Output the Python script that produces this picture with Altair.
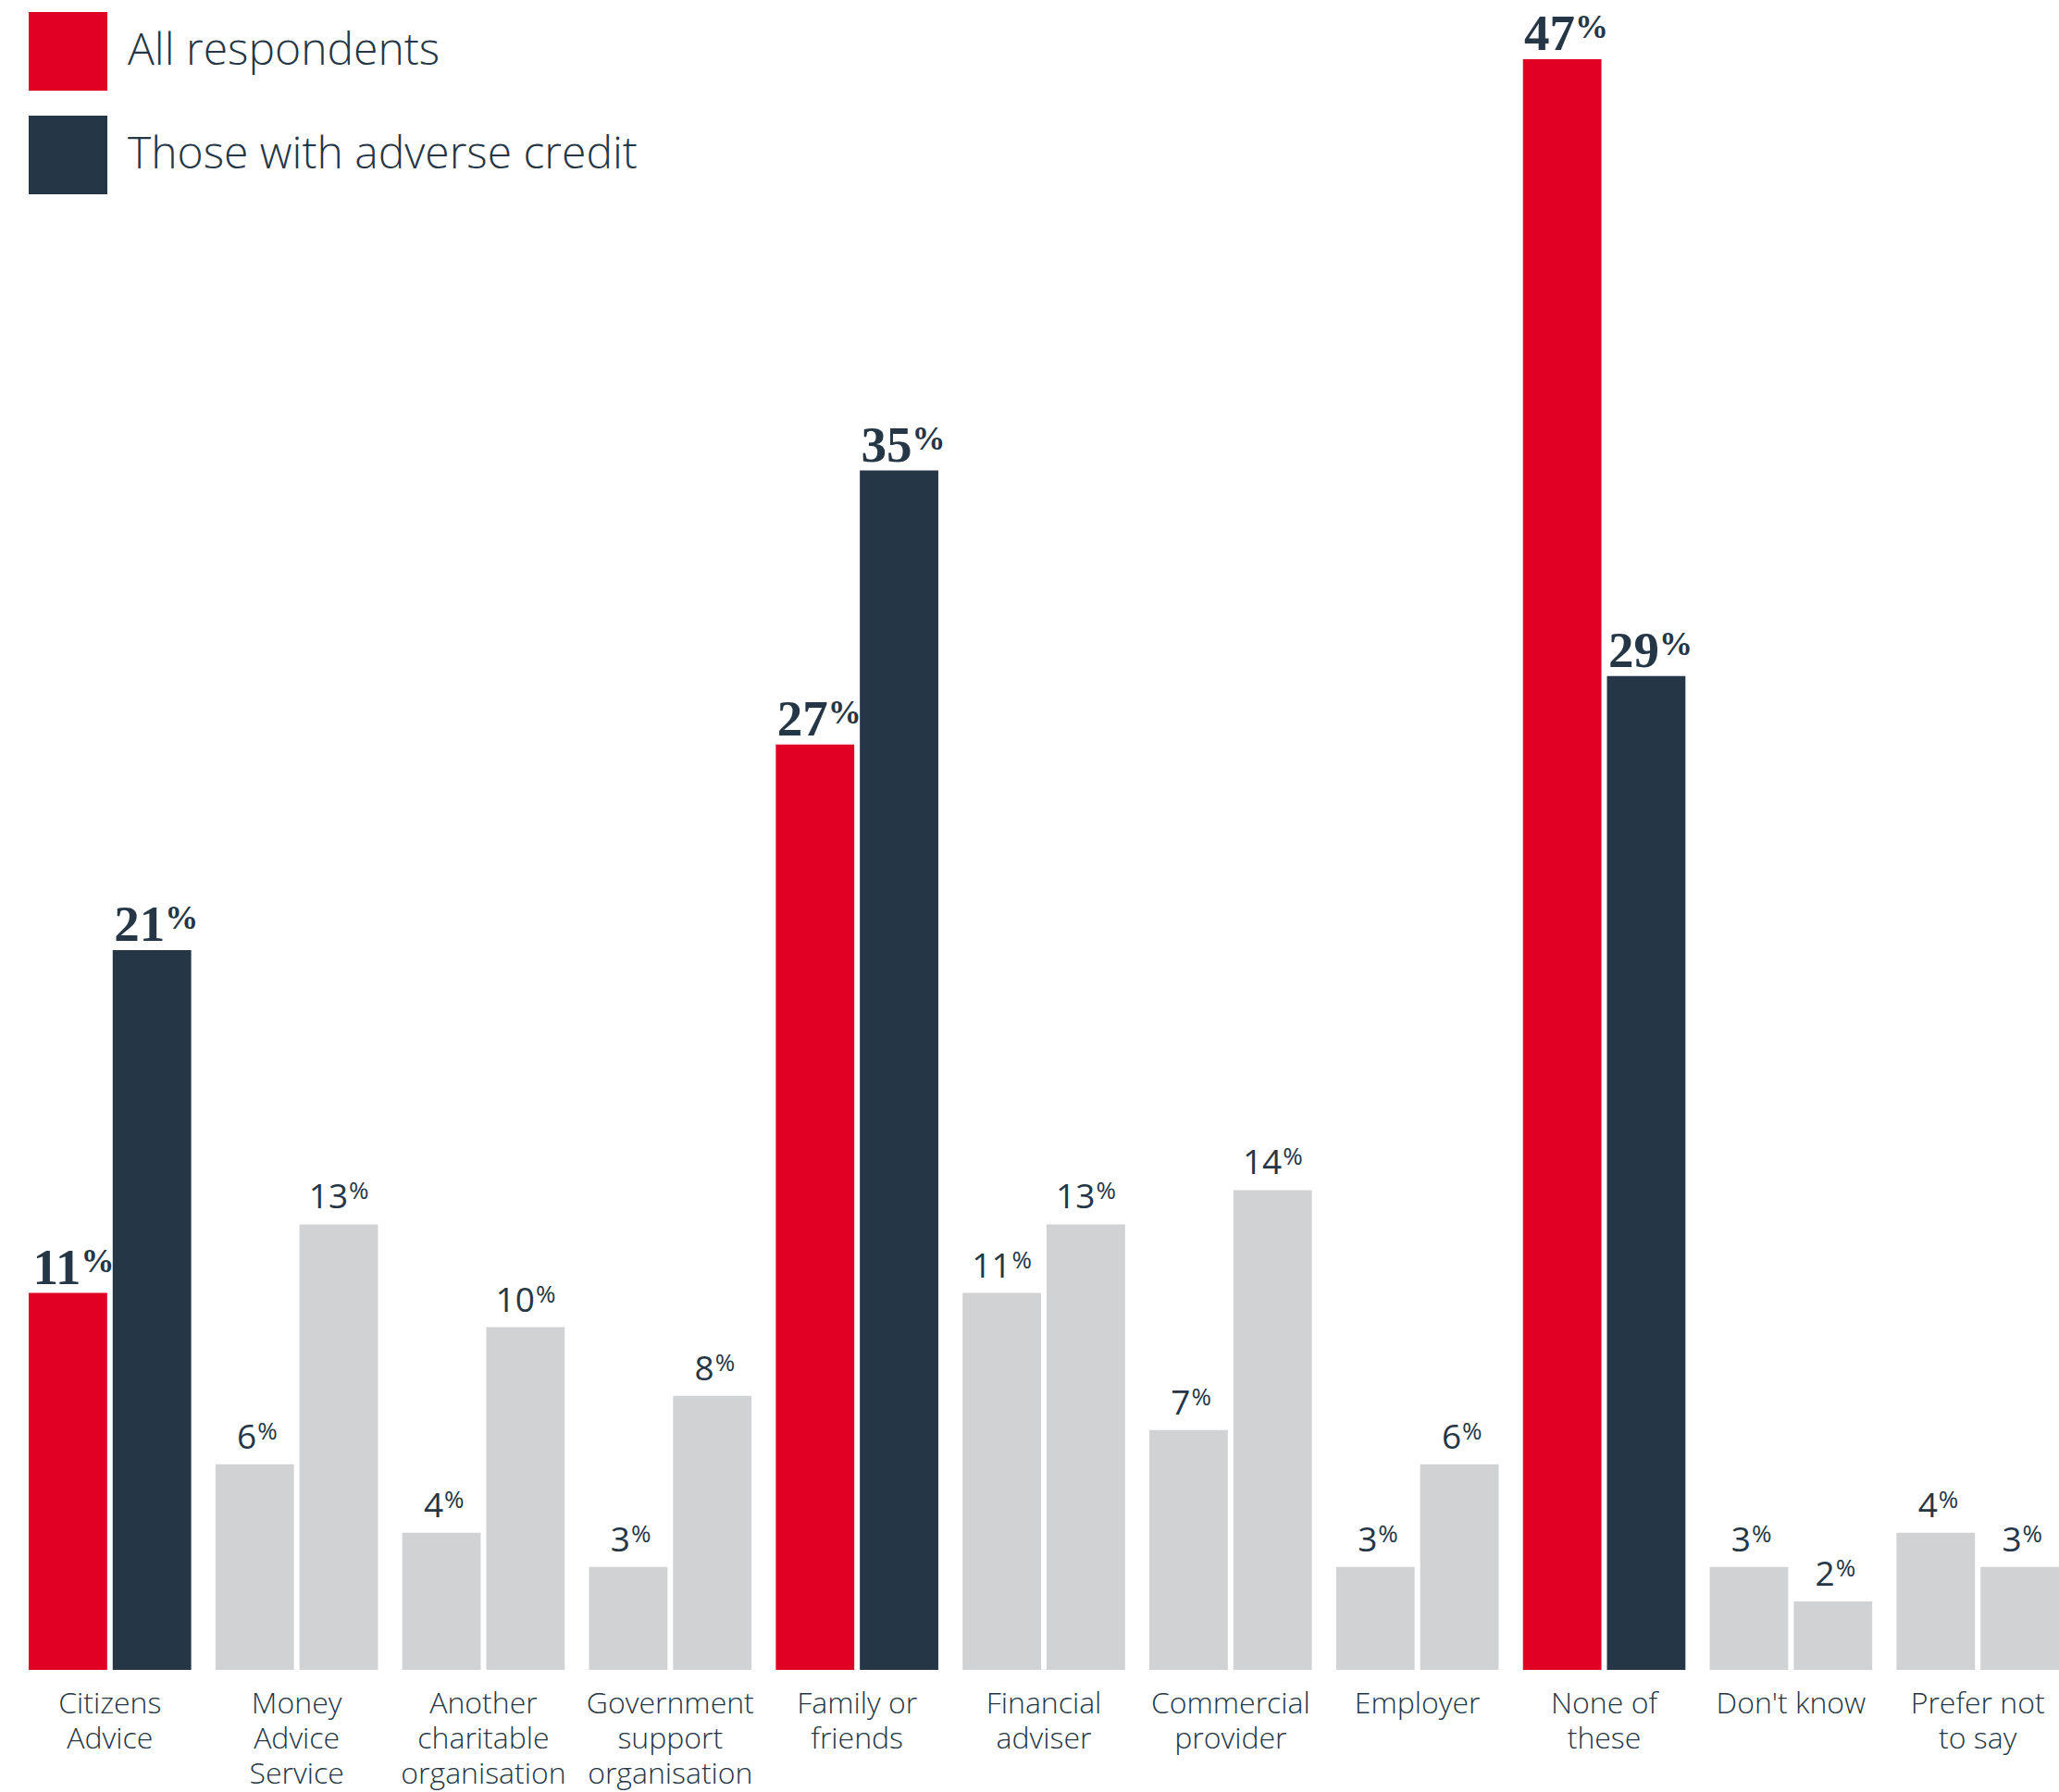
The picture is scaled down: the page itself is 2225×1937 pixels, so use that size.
import altair as alt
import pandas as pd

categories = [
    "Citizens|Advice", "Money|Advice|Service", "Another|charitable|organisation",
    "Government|support|organisation", "Family or|friends", "Financial|adviser",
    "Commercial|provider", "Employer", "None of|these", "Don't know", "Prefer not|to say",
]
all_respondents = [11, 6, 4, 3, 27, 11, 7, 3, 47, 3, 4]
adverse_credit = [21, 13, 10, 8, 35, 13, 14, 6, 29, 2, 3]
highlighted = ["Citizens|Advice", "Family or|friends", "None of|these"]
series_names = ["All respondents", "Those with adverse credit"]

RED = "#e10023"
NAVY = "#253646"
GREY = "#d1d2d4"

rows = []
for cat, a, b in zip(categories, all_respondents, adverse_credit):
    for s, v in zip(series_names, [a, b]):
        hi = cat in highlighted
        rows.append({
            "category": cat,
            "series": s,
            "value": v,
            "label": str(v),
            "hi": hi,
            "key": s if hi else "Other",
        })
df = pd.DataFrame(rows)

x_enc = alt.X("category:N", sort=categories,
              scale=alt.Scale(paddingInner=0.13, paddingOuter=0),
              axis=alt.Axis(title=None, domain=False, ticks=False, labelAngle=0,
                            labelExpr="split(datum.label, '|')",
                            labelFont="Open Sans", labelFontWeight=300,
                            labelFontSize=32, labelLineHeight=38,
                            labelColor=NAVY, labelBaseline="top",
                            labelPadding=21, labelLimit=400))
xo_enc = alt.XOffset("series:N", sort=series_names,
                     scale=alt.Scale(paddingInner=0.066, paddingOuter=0))
y_enc = alt.Y("value:Q", scale=alt.Scale(domain=[0, 47], nice=False, zero=True), axis=None)

base = alt.Chart(df).encode(x=x_enc, xOffset=xo_enc, y=y_enc)

bars = base.mark_bar().encode(
    color=alt.Color("key:N",
                    scale=alt.Scale(domain=series_names + ["Other"], range=[RED, NAVY, GREY]),
                    legend=alt.Legend(title=None, values=series_names, orient="none",
                                      legendX=0, legendY=-51, padding=0,
                                      symbolType="square", symbolSize=7225,
                                      symbolStrokeWidth=0, labelFont="Open Sans",
                                      labelFontWeight=300, labelFontSize=48,
                                      labelColor=NAVY, labelOffset=22, rowPadding=27,
                                      labelLimit=1000))
)

hi_num = base.transform_filter("datum.hi").mark_text(
    font="Liberation Serif", fontWeight="bold", fontSize=55, color=NAVY,
    align="right", baseline="alphabetic", dx=14, dy=-10
).encode(text="label:N")
hi_pct = base.transform_filter("datum.hi").mark_text(
    font="Liberation Serif", fontWeight="bold", fontSize=36, color=NAVY,
    align="left", baseline="alphabetic", dx=14, dy=-23
).encode(text=alt.value("%"))

g2 = "!datum.hi && datum.value >= 10"
g1 = "!datum.hi && datum.value < 10"
gr_num2 = base.transform_filter(g2).mark_text(
    font="Open Sans", fontSize=37, color=NAVY, align="right",
    baseline="alphabetic", dx=10, dy=-17
).encode(text="label:N")
gr_pct2 = base.transform_filter(g2).mark_text(
    font="Open Sans", fontSize=26, color=NAVY, align="left",
    baseline="alphabetic", dx=11, dy=-27
).encode(text=alt.value("%"))
gr_num1 = base.transform_filter(g1).mark_text(
    font="Open Sans", fontSize=37, color=NAVY, align="right",
    baseline="alphabetic", dx=2, dy=-17
).encode(text="label:N")
gr_pct1 = base.transform_filter(g1).mark_text(
    font="Open Sans", fontSize=26, color=NAVY, align="left",
    baseline="alphabetic", dx=3, dy=-27
).encode(text=alt.value("%"))

chart = alt.layer(bars, hi_num, hi_pct, gr_num2, gr_pct2, gr_num1, gr_pct1).properties(
    width=2194, height=1741,
    autosize=alt.AutoSizeParams(type="none"),
    padding={"left": 31, "top": 64, "right": 0, "bottom": 132},
    background="white",
).configure_view(stroke=None)

chart.save("out.html", embed_options={"renderer": "svg", "actions": False})
